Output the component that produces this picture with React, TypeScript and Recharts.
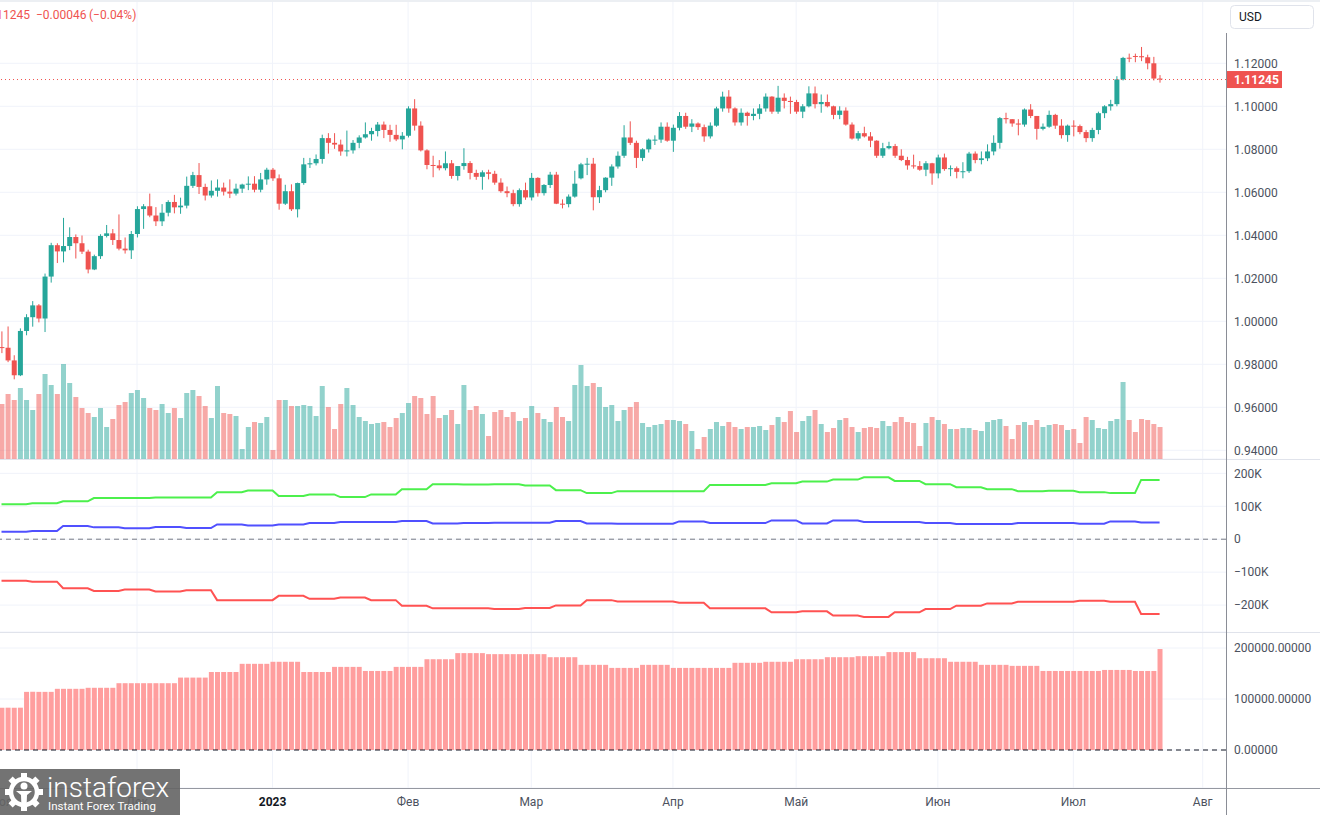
import React from "react";
import {
  ComposedChart,
  Bar,
  Line,
  XAxis,
  YAxis,
  CartesianGrid,
  ReferenceLine,
  Cell
} from "recharts";

// EURUSD daily, 1 Nov 2022 .. 21 Jul 2023 : [open, high, low, close]
const candles: number[][] = [
  [0.9880, 0.9953, 0.9852, 0.9877], [0.9877, 0.9976, 0.9810, 0.9818], [0.9818, 0.9842, 0.9730, 0.9749],
  [0.9749, 0.9967, 0.9745, 0.9955], [0.9955, 1.0033, 0.9935, 1.0019], [1.0019, 1.0094, 0.9975, 1.0074],
  [1.0074, 1.0080, 0.9995, 1.0013], [1.0013, 1.0222, 0.9950, 1.0208], [1.0208, 1.0365, 1.0180, 1.0354],
  [1.0354, 1.0363, 1.0271, 1.0325], [1.0325, 1.0481, 1.0274, 1.0350], [1.0350, 1.0437, 1.0331, 1.0392],
  [1.0392, 1.0404, 1.0292, 1.0363], [1.0363, 1.0399, 1.0313, 1.0324], [1.0324, 1.0333, 1.0223, 1.0241],
  [1.0241, 1.0310, 1.0238, 1.0303], [1.0303, 1.0405, 1.0290, 1.0397], [1.0397, 1.0448, 1.0390, 1.0409],
  [1.0409, 1.0429, 1.0355, 1.0378], [1.0378, 1.0497, 1.0330, 1.0338], [1.0338, 1.0390, 1.0315, 1.0330],
  [1.0330, 1.0420, 1.0290, 1.0406], [1.0406, 1.0535, 1.0390, 1.0522], [1.0522, 1.0545, 1.0430, 1.0535],
  [1.0535, 1.0594, 1.0484, 1.0492], [1.0492, 1.0531, 1.0443, 1.0465], [1.0465, 1.0545, 1.0443, 1.0505],
  [1.0505, 1.0563, 1.0488, 1.0555], [1.0555, 1.0588, 1.0502, 1.0530], [1.0530, 1.0575, 1.0500, 1.0538],
  [1.0538, 1.0673, 1.0525, 1.0630], [1.0630, 1.0695, 1.0620, 1.0680], [1.0680, 1.0736, 1.0592, 1.0625],
  [1.0625, 1.0640, 1.0562, 1.0585], [1.0585, 1.0655, 1.0575, 1.0607], [1.0607, 1.0660, 1.0580, 1.0622],
  [1.0622, 1.0645, 1.0585, 1.0603], [1.0603, 1.0660, 1.0573, 1.0594], [1.0594, 1.0640, 1.0585, 1.0617],
  [1.0617, 1.0640, 1.0597, 1.0636], [1.0636, 1.0674, 1.0610, 1.0640], [1.0640, 1.0675, 1.0600, 1.0612],
  [1.0612, 1.0690, 1.0600, 1.0660], [1.0660, 1.0714, 1.0635, 1.0705], [1.0705, 1.0713, 1.0653, 1.0665],
  [1.0665, 1.0683, 1.0519, 1.0547], [1.0547, 1.0635, 1.0541, 1.0605], [1.0605, 1.0637, 1.0513, 1.0521],
  [1.0521, 1.0645, 1.0483, 1.0643], [1.0643, 1.0760, 1.0635, 1.0730], [1.0730, 1.0760, 1.0713, 1.0735],
  [1.0735, 1.0776, 1.0725, 1.0755], [1.0755, 1.0868, 1.0733, 1.0852], [1.0852, 1.0875, 1.0780, 1.0830],
  [1.0830, 1.0875, 1.0802, 1.0822], [1.0822, 1.0845, 1.0770, 1.0790], [1.0790, 1.0887, 1.0767, 1.0795],
  [1.0795, 1.0843, 1.0780, 1.0830], [1.0830, 1.0865, 1.0805, 1.0855], [1.0855, 1.0925, 1.0850, 1.0870],
  [1.0870, 1.0900, 1.0840, 1.0885], [1.0885, 1.0927, 1.0860, 1.0915], [1.0915, 1.0929, 1.0852, 1.0890],
  [1.0890, 1.0914, 1.0835, 1.0867], [1.0867, 1.0914, 1.0838, 1.0846], [1.0846, 1.0880, 1.0800, 1.0863],
  [1.0863, 1.1000, 1.0855, 1.0990], [1.0990, 1.1033, 1.0887, 1.0910], [1.0910, 1.0930, 1.0790, 1.0795],
  [1.0795, 1.0800, 1.0707, 1.0727], [1.0727, 1.0770, 1.0670, 1.0725], [1.0725, 1.0750, 1.0702, 1.0712],
  [1.0712, 1.0790, 1.0702, 1.0735], [1.0735, 1.0750, 1.0663, 1.0676], [1.0676, 1.0720, 1.0655, 1.0722],
  [1.0722, 1.0805, 1.0705, 1.0736], [1.0736, 1.0745, 1.0660, 1.0690], [1.0690, 1.0705, 1.0658, 1.0672],
  [1.0672, 1.0702, 1.0612, 1.0693], [1.0693, 1.0705, 1.0660, 1.0686], [1.0686, 1.0700, 1.0635, 1.0645],
  [1.0645, 1.0665, 1.0598, 1.0605], [1.0605, 1.0627, 1.0577, 1.0596], [1.0596, 1.0612, 1.0535, 1.0545],
  [1.0545, 1.0618, 1.0533, 1.0610], [1.0610, 1.0645, 1.0565, 1.0576], [1.0576, 1.0690, 1.0562, 1.0667],
  [1.0667, 1.0670, 1.0580, 1.0596], [1.0596, 1.0638, 1.0585, 1.0634], [1.0634, 1.0695, 1.0620, 1.0682],
  [1.0682, 1.0695, 1.0545, 1.0547], [1.0547, 1.0567, 1.0525, 1.0545], [1.0545, 1.0590, 1.0530, 1.0580],
  [1.0580, 1.0700, 1.0575, 1.0640], [1.0665, 1.0737, 1.0660, 1.0730], [1.0730, 1.0760, 1.0680, 1.0733],
  [1.0733, 1.0760, 1.0516, 1.0577], [1.0577, 1.0630, 1.0550, 1.0610], [1.0610, 1.0670, 1.0600, 1.0668],
  [1.0668, 1.0730, 1.0630, 1.0720], [1.0720, 1.0790, 1.0710, 1.0770], [1.0770, 1.0912, 1.0760, 1.0855],
  [1.0855, 1.0930, 1.0820, 1.0830], [1.0830, 1.0840, 1.0713, 1.0760], [1.0760, 1.0805, 1.0745, 1.0800],
  [1.0800, 1.0850, 1.0785, 1.0845], [1.0842, 1.0865, 1.0820, 1.0845], [1.0845, 1.0925, 1.0830, 1.0905],
  [1.0905, 1.0925, 1.0835, 1.0840], [1.0840, 1.0915, 1.0788, 1.0900], [1.0900, 1.0973, 1.0888, 1.0955],
  [1.0955, 1.0970, 1.0895, 1.0905], [1.0905, 1.0940, 1.0880, 1.0920], [1.0920, 1.0925, 1.0890, 1.0903],
  [1.0903, 1.0915, 1.0835, 1.0860], [1.0860, 1.0925, 1.0850, 1.0910], [1.0910, 1.0998, 1.0905, 1.0990],
  [1.0990, 1.1068, 1.0975, 1.1045], [1.1045, 1.1075, 1.0970, 1.0990], [1.0990, 1.0995, 1.0910, 1.0925],
  [1.0925, 1.0990, 1.0910, 1.0970], [1.0970, 1.0975, 1.0910, 1.0955], [1.0955, 1.0990, 1.0935, 1.0965],
  [1.0965, 1.1010, 1.0940, 1.0990], [1.0990, 1.1060, 1.0975, 1.1045], [1.1045, 1.1047, 1.0965, 1.0975],
  [1.0975, 1.1095, 1.0965, 1.1040], [1.1040, 1.1060, 1.0990, 1.1025], [1.1025, 1.1045, 1.0965, 1.1020],
  [1.1020, 1.1030, 1.0965, 1.0975], [1.0975, 1.1010, 1.0945, 1.1000], [1.1000, 1.1093, 1.0995, 1.1060],
  [1.1060, 1.1092, 1.0990, 1.1010], [1.1010, 1.1055, 1.0970, 1.1020], [1.1020, 1.1055, 1.0995, 1.1000],
  [1.1000, 1.1003, 1.0940, 1.0960], [1.0960, 1.1000, 1.0940, 1.0980], [1.0980, 1.0995, 1.0910, 1.0915],
  [1.0915, 1.0925, 1.0845, 1.0850], [1.0850, 1.0885, 1.0840, 1.0875], [1.0875, 1.0905, 1.0855, 1.0860],
  [1.0860, 1.0880, 1.0810, 1.0840], [1.0840, 1.0842, 1.0760, 1.0770], [1.0770, 1.0830, 1.0760, 1.0805],
  [1.0805, 1.0835, 1.0800, 1.0815], [1.0815, 1.0825, 1.0760, 1.0770], [1.0770, 1.0800, 1.0745, 1.0750],
  [1.0750, 1.0765, 1.0705, 1.0725], [1.0725, 1.0775, 1.0710, 1.0722], [1.0722, 1.0745, 1.0700, 1.0705],
  [1.0705, 1.0745, 1.0675, 1.0735], [1.0735, 1.0737, 1.0635, 1.0688], [1.0688, 1.0775, 1.0665, 1.0762],
  [1.0762, 1.0780, 1.0700, 1.0708], [1.0708, 1.0725, 1.0675, 1.0712], [1.0712, 1.0720, 1.0665, 1.0695],
  [1.0695, 1.0740, 1.0665, 1.0698], [1.0698, 1.0788, 1.0690, 1.0780], [1.0780, 1.0790, 1.0735, 1.0750],
  [1.0750, 1.0790, 1.0730, 1.0758], [1.0758, 1.0823, 1.0745, 1.0790], [1.0790, 1.0865, 1.0772, 1.0830],
  [1.0830, 1.0950, 1.0803, 1.0945], [1.0945, 1.0970, 1.0920, 1.0940], [1.0940, 1.0940, 1.0905, 1.0920],
  [1.0920, 1.0940, 1.0865, 1.0915], [1.0915, 1.0990, 1.0905, 1.0985], [1.0985, 1.1010, 1.0945, 1.0955],
  [1.0955, 1.0955, 1.0845, 1.0895], [1.0895, 1.0920, 1.0888, 1.0905], [1.0905, 1.0980, 1.0900, 1.0960],
  [1.0960, 1.0965, 1.0895, 1.0910], [1.0910, 1.0940, 1.0850, 1.0866], [1.0866, 1.0915, 1.0835, 1.0910],
  [1.0910, 1.0935, 1.0860, 1.0908], [1.0908, 1.0915, 1.0870, 1.0880], [1.0880, 1.0890, 1.0833, 1.0852],
  [1.0852, 1.0900, 1.0835, 1.0890], [1.0890, 1.0975, 1.0870, 1.0968], [1.0968, 1.1005, 1.0945, 1.1000],
  [1.1000, 1.1030, 1.0980, 1.1010], [1.1010, 1.1140, 1.1000, 1.1125], [1.1125, 1.1230, 1.1120, 1.1225],
  [1.1226, 1.1245, 1.1205, 1.1223], [1.1234, 1.1245, 1.1205, 1.1232], [1.1233, 1.1276, 1.1210, 1.1228],
  [1.1228, 1.1240, 1.1172, 1.1200], [1.1200, 1.1230, 1.1120, 1.11291], [1.11291, 1.1145, 1.1110, 1.11245]
];

// tick volume, thousands
const volumes = [
  55, 65, 59, 71, 59, 49, 65, 85, 74, 65,
  95, 76, 62, 51, 46, 42, 51, 32, 40, 54,
  57, 66, 69, 61, 51, 49, 55, 46, 51, 41,
  66, 69, 63, 53, 41, 73, 46, 45, 43, 10,
  32, 37, 36, 42, 9, 59, 59, 53, 53, 54,
  53, 43, 73, 52, 30, 55, 71, 54, 42, 38,
  35, 36, 37, 32, 41, 46, 56, 63, 61, 45,
  63, 41, 44, 49, 35, 74, 49, 53, 45, 23,
  47, 49, 42, 47, 38, 41, 53, 46, 40, 37,
  52, 42, 38, 74, 94, 73, 76, 72, 52, 54,
  38, 49, 52, 57, 36, 32, 34, 35, 39, 39,
  38, 35, 28, 10, 22, 30, 37, 33, 37, 32,
  30, 32, 32, 33, 29, 34, 42, 37, 48, 27,
  38, 43, 49, 35, 27, 31, 39, 41, 32, 27,
  31, 32, 31, 38, 33, 37, 42, 37, 36, 13,
  36, 42, 39, 35, 30, 30, 31, 31, 29, 28,
  37, 39, 40, 33, 20, 34, 37, 34, 39, 32,
  34, 35, 34, 29, 30, 16, 42, 39, 31, 30,
  38, 40, 77, 39, 27, 40, 39, 35, 32
];

// weekly positioning (thousands of contracts), one value per 5 bars
const greenWeekly = [
  106, 109, 115, 125, 125, 127, 127, 143, 148, 131, 136, 128, 136, 152, 167, 166, 167, 163, 149,
  140, 146, 146, 146, 165, 165, 170, 175, 181, 188, 177, 167, 158, 152, 146, 147, 143, 140, 180
];
const blueWeekly = [
  23, 25, 40, 36, 33, 37, 34, 45, 42, 45, 49, 52, 52, 55, 48, 49, 50, 50, 55,
  48, 47, 47, 54, 49, 49, 57, 48, 57, 52, 52, 49, 46, 46, 49, 49, 47, 54, 51
];
const redWeekly = [
  -126, -129, -149, -157, -153, -159, -155, -185, -185, -172, -181, -177, -185, -202, -210, -210, -212, -209, -201,
  -185, -189, -189, -193, -210, -210, -222, -219, -232, -236, -222, -212, -202, -195, -190, -190, -187, -190, -227
];
// open interest (thousands)
const oiWeekly = [
  83, 114, 120, 122, 131, 131, 142, 153, 169, 173, 153, 163, 155, 163, 178, 190, 188, 188, 182,
  167, 161, 167, 161, 161, 171, 173, 178, 182, 184, 192, 180, 173, 167, 165, 155, 155, 157, 155
];
const oiLatest = 198;

const monthTicks = [0, 22, 44, 66, 86, 109, 129, 152, 174, 195];
const monthLabels = ["Ноя", "Дек", "2023", "Фев", "Мар", "Апр", "Май", "Июн", "Июл", "Авг"];
const priceTicks = [0.94, 0.96, 0.98, 1.0, 1.02, 1.04, 1.06, 1.08, 1.1, 1.12];
const cotTicks = [-200000, -100000, 0, 100000, 200000];
const oiTicks = [0, 100000, 200000];

const W = 1320;
const AXIS_W = 94;
const X_DOMAIN: [number, number] = [-0.2435, 198.78];
const UP = "#26a69a";
const DOWN = "#ef5350";
const VOL_UP = "rgba(38,166,154,0.5)";
const VOL_DOWN = "rgba(239,83,80,0.5)";
const GRID = "#f0f3fa";
const FONT = "Roboto, 'DejaVu Sans', sans-serif";
const TEXT = "#4c525e";
const NO_MARGIN = { top: 0, right: 0, bottom: 0, left: 0 };
const gridMonths = monthTicks.slice(1);

const last = candles.length - 1;
const lastClose = candles[last][3];
const prevClose = candles[last - 1][3];
const change = lastClose - prevClose;
const minus = (s: string) => s.replace("-", "\u2212");

const rows = candles.map(([o, h, l, c], i) => ({
  i,
  o,
  h,
  l,
  c,
  range: [l, h],
  vol: volumes[i],
  up: c >= o,
  green: greenWeekly[Math.floor(i / 5)] * 1000,
  blue: blueWeekly[Math.floor(i / 5)] * 1000,
  red: redWeekly[Math.floor(i / 5)] * 1000,
  oi: (i === last ? oiLatest : oiWeekly[Math.floor((i + 1) / 5)]) * 1000
}));

const axisTick = { fill: TEXT, fontSize: 12, fontFamily: FONT };

function CandleShape(props: any) {
  const { x, y, width, height, payload } = props;
  if (!payload) return null;
  const { o, h, l, c } = payload;
  const top = Math.min(y, y + height);
  const hh = Math.abs(height);
  const cx = x + width / 2;
  const span = h - l || 1e-9;
  const toY = (p: number) => top + ((h - p) / span) * hh;
  const color = c >= o ? UP : DOWN;
  const bTop = toY(Math.max(o, c));
  const bBot = toY(Math.min(o, c));
  return (
    <g>
      <line x1={cx} x2={cx} y1={top} y2={top + hh} stroke={color} strokeWidth={1} />
      <rect x={cx - 2.5} y={bTop} width={5} height={Math.max(1, bBot - bTop)} fill={color} />
    </g>
  );
}

function PriceTag(props: any) {
  const vb = props.viewBox || props;
  if (vb == null || vb.x == null) return null;
  const x = vb.x + (vb.width || 0);
  const y = vb.y;
  return (
    <g>
      <rect x={x + 1} y={y - 8.5} width={55} height={17} fill={DOWN} />
      <text x={x + 8} y={y + 4.5} fill="#fff" fontSize={12} fontWeight={700} fontFamily={FONT}>
        {lastClose.toFixed(5)}
      </text>
    </g>
  );
}

function MonthTick(props: any) {
  const { x, y, payload } = props;
  const k = monthTicks.indexOf(payload.value);
  if (k < 0) return null;
  const bold = monthLabels[k] === "2023";
  return (
    <text
      x={x}
      y={y + 18}
      textAnchor="middle"
      fontSize={12}
      fontFamily={FONT}
      fontWeight={bold ? 700 : 400}
      fill={bold ? "#131722" : TEXT}
    >
      {monthLabels[k]}
    </text>
  );
}

const fmtK = (v: number) => (v === 0 ? "0" : (v < 0 ? "\u2212" : "") + Math.abs(v) / 1000 + "K");

function Gear({ cx, cy }: { cx: number; cy: number }) {
  return (
    <g fill="#fff">
      {[0, 45, 90, 135, 180, 225, 270, 315].map((a) => (
        <rect key={a} x={cx - 3} y={cy - 19} width={6} height={7} transform={`rotate(${a} ${cx} ${cy})`} />
      ))}
      <circle cx={cx} cy={cy} r={13} fill="none" stroke="#fff" strokeWidth={4.5} />
      <circle cx={cx} cy={cy - 6} r={3.5} />
      <path
        d={`M${cx - 8} ${cy - 1} L${cx + 8} ${cy - 1} L${cx + 3} ${cy + 3} L${cx + 2.5} ${cy + 17} L${cx - 2.5} ${cy + 17} L${cx - 3} ${cy + 3} Z`}
      />
    </g>
  );
}

export default function App() {
  return (
    <div
      style={{
        position: "absolute",
        left: 0,
        top: 0,
        width: W,
        height: 815,
        background: "#fff",
        overflow: "hidden",
        fontFamily: FONT
      }}
    >
      {/* price pane */}
      <div style={{ position: "absolute", left: 0, top: 0 }}>
        <ComposedChart width={W} height={459} data={rows} margin={NO_MARGIN}>
          <XAxis xAxisId="px" dataKey="i" type="number" domain={X_DOMAIN} hide allowDataOverflow />
          <XAxis xAxisId="vx" dataKey="i" type="number" domain={X_DOMAIN} hide allowDataOverflow />
          <YAxis
            yAxisId="price"
            orientation="right"
            width={AXIS_W}
            domain={[0.93595, 1.14944]}
            allowDataOverflow
            ticks={priceTicks}
            interval={0}
            tickFormatter={(v: number) => v.toFixed(5)}
            tick={axisTick}
            tickLine={false}
            axisLine={false}
            tickSize={0}
            tickMargin={8}
          />
          <YAxis yAxisId="vol" hide domain={[0, 459]} allowDataOverflow />
          <CartesianGrid xAxisId="px" yAxisId="price" stroke={GRID} verticalValues={gridMonths} />
          <Bar xAxisId="vx" yAxisId="vol" dataKey="vol" barSize={5} isAnimationActive={false}>
            {rows.map((r) => (
              <Cell key={r.i} fill={r.up ? VOL_UP : VOL_DOWN} />
            ))}
          </Bar>
          <Bar
            xAxisId="px"
            yAxisId="price"
            dataKey="range"
            barSize={5}
            shape={CandleShape}
            isAnimationActive={false}
          />
          <ReferenceLine
            xAxisId="px"
            yAxisId="price"
            y={lastClose}
            stroke={DOWN}
            strokeDasharray="1 3"
            label={PriceTag}
          />
        </ComposedChart>
      </div>

      {/* positioning lines pane */}
      <div style={{ position: "absolute", left: 0, top: 459 }}>
        <ComposedChart width={W} height={173} data={rows} margin={NO_MARGIN}>
          <XAxis dataKey="i" type="number" domain={X_DOMAIN} hide allowDataOverflow />
          <YAxis
            orientation="right"
            width={AXIS_W}
            domain={[-281800, 243600]}
            allowDataOverflow
            ticks={cotTicks}
            interval={0}
            tickFormatter={fmtK}
            tick={axisTick}
            tickLine={false}
            axisLine={false}
            tickSize={0}
            tickMargin={8}
          />
          <CartesianGrid stroke={GRID} verticalValues={gridMonths} />
          <ReferenceLine y={0} stroke="#787b86" strokeDasharray="5 4" />
          <Line type="linear" dataKey="green" stroke="#4cf04c" strokeWidth={2} dot={false} activeDot={false} isAnimationActive={false} />
          <Line type="linear" dataKey="blue" stroke="#5050ff" strokeWidth={2} dot={false} activeDot={false} isAnimationActive={false} />
          <Line type="linear" dataKey="red" stroke="#ff5252" strokeWidth={2} dot={false} activeDot={false} isAnimationActive={false} />
        </ComposedChart>
      </div>

      {/* open interest pane + time axis */}
      <div style={{ position: "absolute", left: 0, top: 632 }}>
        <ComposedChart width={W} height={183} data={rows} margin={NO_MARGIN}>
          <XAxis
            dataKey="i"
            type="number"
            domain={X_DOMAIN}
            allowDataOverflow
            ticks={monthTicks}
            interval={0}
            height={27}
            axisLine={false}
            tickLine={false}
            tickSize={0}
            tickMargin={0}
            tick={<MonthTick />}
          />
          <YAxis
            orientation="right"
            width={AXIS_W}
            domain={[-74500, 231400]}
            allowDataOverflow
            ticks={oiTicks}
            interval={0}
            tickFormatter={(v: number) => v.toFixed(5)}
            tick={axisTick}
            tickLine={false}
            axisLine={false}
            tickSize={0}
            tickMargin={8}
          />
          <CartesianGrid stroke={GRID} verticalValues={gridMonths} />
          <Bar dataKey="oi" fill="#ff9e9e" barSize={5} isAnimationActive={false} />
          <ReferenceLine y={0} stroke="#131722" strokeDasharray="5 4" />
        </ComposedChart>
      </div>

      {/* frame, legend, logo */}
      <svg
        width={W}
        height={815}
        style={{ position: "absolute", left: 0, top: 0, pointerEvents: "none" }}
      >
        <rect x={0} y={0} width={W} height={2} fill="#eceff3" />
        <line x1={0} x2={W} y1={459.5} y2={459.5} stroke="#e0e3eb" />
        <line x1={0} x2={W} y1={632.5} y2={632.5} stroke="#e0e3eb" />
        <line x1={0} x2={W} y1={788.5} y2={788.5} stroke="#9598a1" />
        <line x1={1226.5} x2={1226.5} y1={33} y2={815} stroke="#8a8d96" />

        <rect x={1230.5} y={5.5} width={83} height={23} rx={4} fill="#fff" stroke="#e0e3eb" />
        <text x={1239} y={21} fontSize={12} fontFamily={FONT} fill="#131722">USD</text>

        <text x={30} y={19} textAnchor="end" fontSize={12} fontFamily={FONT} fill={DOWN}>
          {lastClose.toFixed(5)}
        </text>
        <text x={36} y={19} fontSize={12} fontFamily={FONT} fill={DOWN}>
          {minus(change.toFixed(5))}
        </text>
        <text x={89} y={19} fontSize={12} fontFamily={FONT} fill={DOWN}>
          {"(" + minus(((change / prevClose) * 100).toFixed(2)) + "%)"}
        </text>

        <rect x={0} y={769} width={180} height={46} fill="rgba(100,100,100,0.9)" />
        <Gear cx={24} cy={792} />
        <text x={47} y={797} fontSize={28} fontWeight={300} fontFamily={FONT} fill="#fff">instaforex</text>
        <text x={48} y={810} fontSize={11.5} fontFamily={FONT} fill="#fff">Instant Forex Trading</text>
      </svg>
    </div>
  );
}
